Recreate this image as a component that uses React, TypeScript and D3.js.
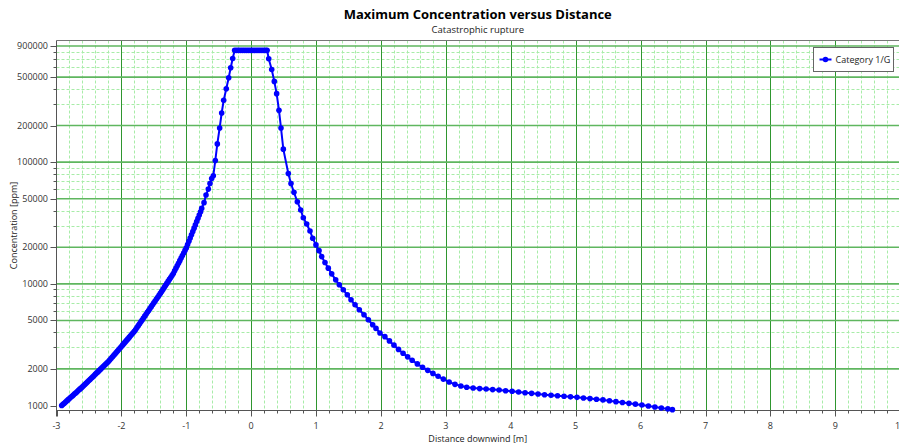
import { useEffect, useRef } from 'react';
import * as d3 from 'd3';

const seriesName = 'Category 1/G';

// distance downwind [m]
const distance = [
  -2.92, -2.9, -2.88, -2.86, -2.84, -2.82, -2.8, -2.78, -2.76, -2.74, -2.72, -2.7, -2.68, -2.66,
  -2.64, -2.62, -2.6, -2.58, -2.56, -2.54, -2.52, -2.5, -2.48, -2.46, -2.44, -2.42, -2.4, -2.38,
  -2.36, -2.34, -2.32, -2.3, -2.28, -2.26, -2.24, -2.22, -2.2, -2.18, -2.16, -2.14, -2.12, -2.1,
  -2.08, -2.06, -2.04, -2.02, -2.0, -1.98, -1.96, -1.94, -1.92, -1.9, -1.88, -1.86, -1.84, -1.82,
  -1.8, -1.78, -1.76, -1.74, -1.72, -1.7, -1.68, -1.66, -1.64, -1.62, -1.6, -1.58, -1.56, -1.54,
  -1.52, -1.5, -1.48, -1.46, -1.44, -1.42, -1.4, -1.38, -1.36, -1.34, -1.32, -1.3, -1.28, -1.26,
  -1.24, -1.22, -1.2, -1.18, -1.16, -1.14, -1.12, -1.1, -1.08, -1.06, -1.04, -1.02, -1.0, -0.98,
  -0.96, -0.94, -0.92, -0.9, -0.88, -0.86, -0.84, -0.82, -0.8, -0.78,
  -0.763, -0.727, -0.696, -0.661, -0.635, -0.609, -0.584, -0.553, -0.522, -0.486, -0.455, -0.424,
  -0.384, -0.347, -0.316, -0.285,
  -0.255, -0.225, -0.195, -0.165, -0.135, -0.105, -0.075, -0.045, -0.015, 0.015, 0.045, 0.075,
  0.105, 0.135, 0.165, 0.195, 0.225, 0.245,
  0.27, 0.316, 0.356, 0.392, 0.428, 0.459, 0.495,
  0.572, 0.613, 0.659, 0.711, 0.763, 0.803, 0.855, 0.906, 0.948, 0.998, 1.045, 1.086, 1.137,
  1.188, 1.24, 1.302, 1.358, 1.419, 1.481, 1.538, 1.6, 1.666, 1.738, 1.805, 1.872, 1.923, 1.984,
  2.06, 2.13, 2.2, 2.27, 2.34, 2.41, 2.48, 2.56, 2.64, 2.72, 2.8, 2.88, 2.96,
  3.05, 3.14, 3.23, 3.32, 3.42, 3.52, 3.62, 3.72, 3.82, 3.92, 4.02, 4.12, 4.22, 4.32, 4.42, 4.52,
  4.62, 4.72, 4.82, 4.92, 5.02, 5.12, 5.22, 5.32, 5.42, 5.52, 5.62, 5.72, 5.82, 5.92, 6.02, 6.12,
  6.22, 6.32, 6.42, 6.49,
];

// maximum concentration [ppm]
const concentration = [
  1000, 1022, 1045, 1069, 1092, 1117, 1142, 1167, 1193, 1220, 1247, 1275, 1304, 1333,
  1363, 1393, 1424, 1459, 1494, 1530, 1567, 1605, 1644, 1684, 1725, 1767, 1810, 1854,
  1898, 1944, 1991, 2040, 2089, 2140, 2192, 2245, 2299, 2366, 2434, 2505, 2578, 2652,
  2729, 2808, 2889, 2973, 3059, 3148, 3239, 3333, 3429, 3529, 3631, 3736, 3845, 3956,
  4071, 4220, 4373, 4533, 4699, 4871, 5049, 5234, 5425, 5623, 5830, 6043, 6264, 6493,
  6730, 6977, 7232, 7496, 7770, 8054, 8349, 8670, 9002, 9350, 9710, 10083, 10471, 10874,
  11290, 11727, 12177, 12786, 13417, 14082, 14777, 15509, 16280, 17086, 17931, 18824, 19752, 21018,
  22367, 23800, 25330, 26957, 28684, 30519, 32483, 34563, 36784, 39145,
  41700, 46500, 53700, 60100, 66800, 73500, 77300, 103300, 141300, 191000, 253500, 322100,
  401800, 494300, 597000, 711200,
  830000, 830000, 830000, 830000, 830000, 830000, 830000, 830000, 830000, 830000, 830000, 830000,
  830000, 830000, 830000, 830000, 830000, 830000,
  707900, 578100, 461300, 365600, 266700, 191000, 127900,
  80700, 66800, 56500, 47300, 40500, 34900, 31000, 27200, 23700, 20900, 18750, 16750, 14960,
  13460, 12080, 10790, 9820, 8930, 8130, 7400, 6730, 6120, 5570, 5070, 4610, 4305, 3950,
  3681, 3396, 3133, 2891, 2692, 2512, 2355, 2198, 2061, 1945, 1837, 1738, 1648,
  1560, 1493, 1445, 1413, 1393, 1377, 1365, 1352, 1340, 1324, 1309, 1291, 1274, 1259, 1242, 1225,
  1213, 1202, 1191, 1178, 1167, 1153, 1140, 1127, 1112, 1094, 1076, 1059, 1042, 1026, 1009, 991,
  973, 955, 938, 925,
];

const xTicks = [-3, -2, -1, 0, 1, 2, 3, 4, 5, 6, 7, 8, 9, 10];
const yTicks = [1000, 2000, 5000, 10000, 20000, 50000, 100000, 200000, 500000, 900000];
const yMinorTicks = [
  3000, 4000, 6000, 7000, 8000, 9000, 30000, 40000, 60000, 70000, 80000, 90000,
  300000, 400000, 600000, 700000, 800000,
];

export default function App() {
  const svgRef = useRef<SVGSVGElement>(null);

  useEffect(() => {
    if (!svgRef.current) return;
    const width = 899;
    const height = 447;
    const left = 56.5;
    const top = 40.5;
    const bottom = 410.5;
    const font = "'Open Sans', 'Noto Sans', sans-serif";

    const svg = d3.select(svgRef.current).attr('width', width).attr('height', height);
    svg.selectAll('*').remove();

    const x = d3.scaleLinear().domain([-3, 10]).range([left, left + 13 * 64.9]);
    const y = d3.scaleLog().domain([910, 1e6]).range([bottom, top]);
    const right = x(10);

    // minor grid
    const minorX = d3.range(-3, 10, 0.2).filter((v) => Math.abs(v - Math.round(v)) > 0.01);
    svg
      .append('g')
      .selectAll('line')
      .data(minorX)
      .join('line')
      .attr('x1', (d) => Math.round(x(d)) + 0.5)
      .attr('x2', (d) => Math.round(x(d)) + 0.5)
      .attr('y1', top)
      .attr('y2', bottom)
      .attr('stroke', '#a8eca8')
      .attr('stroke-dasharray', '3,2');
    svg
      .append('g')
      .selectAll('line')
      .data(yMinorTicks)
      .join('line')
      .attr('x1', left)
      .attr('x2', right)
      .attr('y1', (d) => Math.round(y(d)) + 0.5)
      .attr('y2', (d) => Math.round(y(d)) + 0.5)
      .attr('stroke', '#a8eca8')
      .attr('stroke-dasharray', '3,2');

    // major grid
    svg
      .append('g')
      .selectAll('line')
      .data(xTicks.slice(1))
      .join('line')
      .attr('x1', (d) => Math.round(x(d)) + 0.5)
      .attr('x2', (d) => Math.round(x(d)) + 0.5)
      .attr('y1', top)
      .attr('y2', bottom)
      .attr('stroke', '#2f962f');
    svg
      .append('g')
      .selectAll('line')
      .data(yTicks.slice(1))
      .join('line')
      .attr('x1', left)
      .attr('x2', right)
      .attr('y1', (d) => y(d))
      .attr('y2', (d) => y(d))
      .attr('stroke', '#5fb65f')
      .attr('stroke-width', 1.6);

    // frame
    svg.append('line').attr('x1', left).attr('x2', right).attr('y1', top).attr('y2', top).attr('stroke', '#777');
    svg.append('line').attr('x1', left).attr('x2', right).attr('y1', bottom).attr('y2', bottom).attr('stroke', '#555');
    svg.append('line').attr('x1', left).attr('x2', left).attr('y1', top).attr('y2', bottom + 6).attr('stroke', '#555');

    // x ticks
    const gx = svg.append('g');
    gx.selectAll('line.minor')
      .data(minorX)
      .join('line')
      .attr('class', 'minor')
      .attr('x1', (d) => Math.round(x(d)) + 0.5)
      .attr('x2', (d) => Math.round(x(d)) + 0.5)
      .attr('y1', bottom)
      .attr('y2', bottom + 3)
      .attr('stroke', '#555');
    gx.selectAll('line.major')
      .data(xTicks)
      .join('line')
      .attr('class', 'major')
      .attr('x1', (d) => Math.round(x(d)) + 0.5)
      .attr('x2', (d) => Math.round(x(d)) + 0.5)
      .attr('y1', bottom)
      .attr('y2', bottom + 6)
      .attr('stroke', '#555');
    gx.selectAll('text')
      .data(xTicks)
      .join('text')
      .attr('x', (d) => x(d))
      .attr('y', 429)
      .attr('text-anchor', 'middle')
      .style('font-family', font)
      .style('font-size', '9px')
      .attr('fill', '#333')
      .text((d) => String(d));

    // y ticks
    const gy = svg.append('g');
    gy.selectAll('line.minor')
      .data(yMinorTicks)
      .join('line')
      .attr('class', 'minor')
      .attr('x1', left - 3)
      .attr('x2', left)
      .attr('y1', (d) => Math.round(y(d)) + 0.5)
      .attr('y2', (d) => Math.round(y(d)) + 0.5)
      .attr('stroke', '#555');
    gy.selectAll('line.major')
      .data(yTicks)
      .join('line')
      .attr('class', 'major')
      .attr('x1', left - 6)
      .attr('x2', left)
      .attr('y1', (d) => Math.round(y(d)) + 0.5)
      .attr('y2', (d) => Math.round(y(d)) + 0.5)
      .attr('stroke', '#555');
    gy.selectAll('text')
      .data(yTicks)
      .join('text')
      .attr('x', 48)
      .attr('y', (d) => y(d) + 3)
      .attr('text-anchor', 'end')
      .style('font-family', font)
      .style('font-size', '9px')
      .attr('fill', '#333')
      .text((d) => String(d));

    // series
    const points = distance.map((d, i) => [d, concentration[i]] as [number, number]);
    const line = d3
      .line<[number, number]>()
      .x((d) => x(d[0]))
      .y((d) => y(d[1]));
    svg
      .append('path')
      .attr('d', line(points))
      .attr('fill', 'none')
      .attr('stroke', '#0000ff')
      .attr('stroke-width', 2);
    svg
      .append('g')
      .selectAll('circle')
      .data(points)
      .join('circle')
      .attr('cx', (d) => x(d[0]))
      .attr('cy', (d) => y(d[1]))
      .attr('r', 2.8)
      .attr('fill', '#0000ff');

    // titles
    svg
      .append('text')
      .attr('x', (left + width) / 2)
      .attr('y', 19)
      .attr('text-anchor', 'middle')
      .style('font-family', font)
      .style('font-size', '13px')
      .style('font-weight', 'bold')
      .attr('fill', '#000')
      .text('Maximum Concentration versus Distance');
    svg
      .append('text')
      .attr('x', (left + width) / 2)
      .attr('y', 33)
      .attr('text-anchor', 'middle')
      .style('font-family', font)
      .style('font-size', '9.5px')
      .attr('fill', '#222')
      .text('Catastrophic rupture');
    svg
      .append('text')
      .attr('x', (left + width) / 2)
      .attr('y', 442)
      .attr('text-anchor', 'middle')
      .style('font-family', font)
      .style('font-size', '9px')
      .attr('fill', '#222')
      .text('Distance downwind [m]');
    svg
      .append('text')
      .attr('transform', `translate(17,${(top + bottom) / 2}) rotate(-90)`)
      .attr('text-anchor', 'middle')
      .style('font-family', font)
      .style('font-size', '9px')
      .attr('fill', '#222')
      .text('Concentration [ppm]');

    // legend
    const lg = svg.append('g').attr('transform', 'translate(813.5,47.5)');
    lg.append('rect').attr('width', 80).attr('height', 24).attr('fill', '#fff').attr('stroke', '#666');
    lg.append('line').attr('x1', 6).attr('x2', 18).attr('y1', 12).attr('y2', 12).attr('stroke', '#0000ff').attr('stroke-width', 2);
    lg.append('circle').attr('cx', 12).attr('cy', 12).attr('r', 2.8).attr('fill', '#0000ff');
    lg.append('text')
      .attr('x', 22)
      .attr('y', 15.5)
      .style('font-family', font)
      .style('font-size', '9px')
      .attr('fill', '#222')
      .text(seriesName);
  }, []);

  return (
    <div style={{ position: 'absolute', left: 0, top: 0, width: 899, height: 447, overflow: 'hidden', background: '#fff' }}>
      <svg ref={svgRef} style={{ display: 'block' }} />
    </div>
  );
}
